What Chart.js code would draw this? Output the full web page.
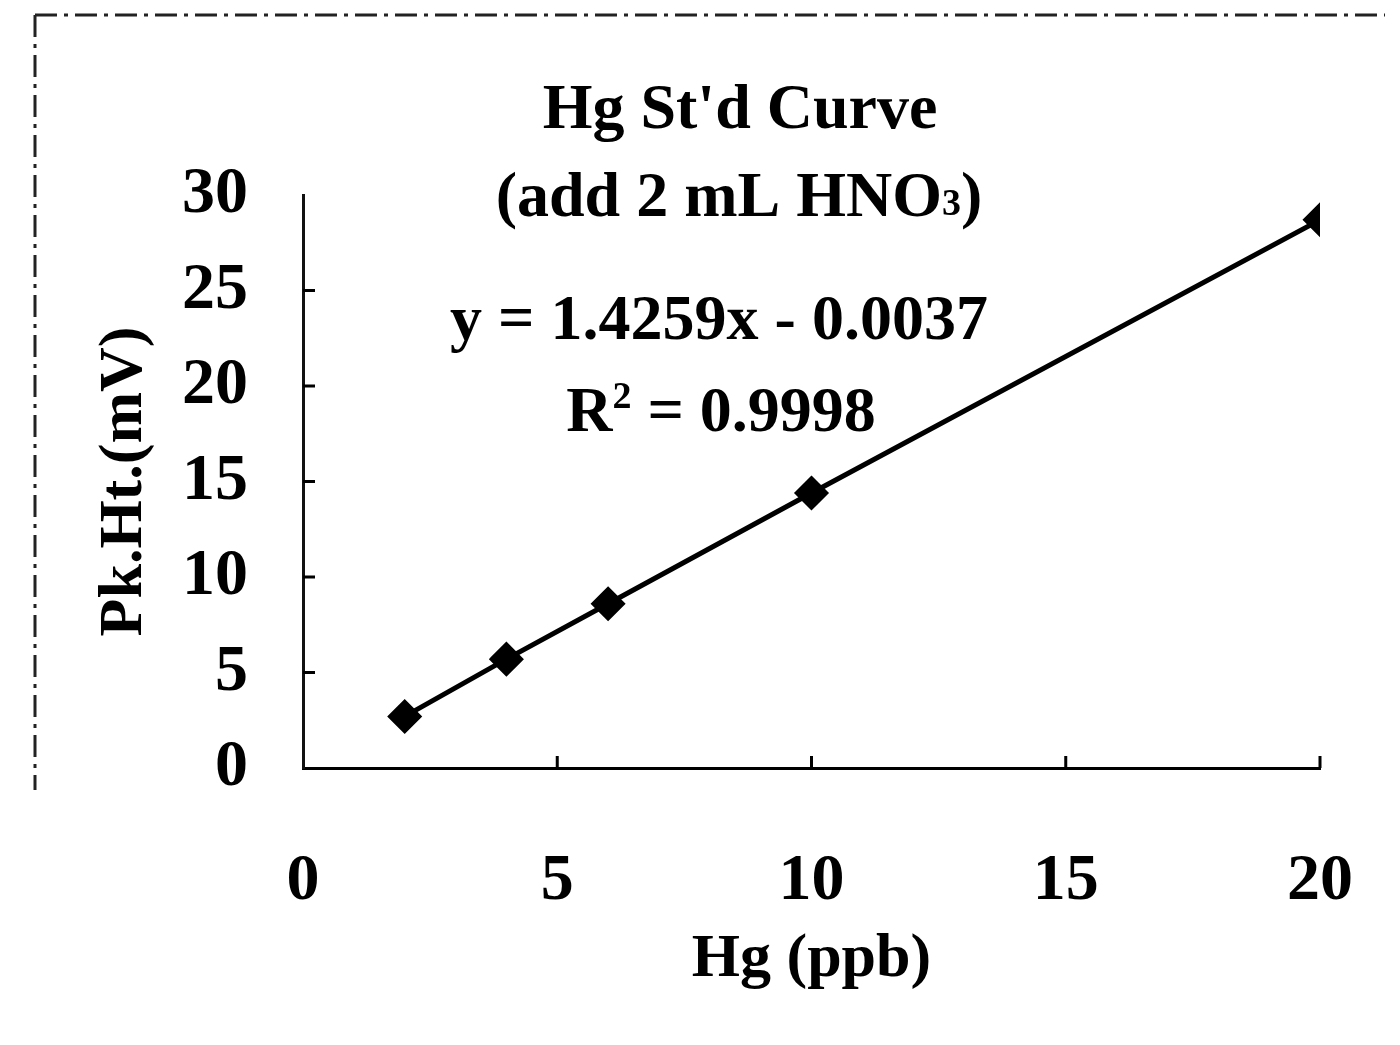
<!DOCTYPE html>
<html><head><meta charset="utf-8">
<script src="https://cdn.jsdelivr.net/npm/chart.js@4/dist/chart.umd.min.js"></script>
<style>html,body{margin:0;padding:0;background:#fff;} #wrap{width:1400px;height:1045px;}</style>
</head><body><div id="wrap"><canvas id="c" width="1400" height="1045"></canvas></div>
<script>
const hgPpb = [2, 4, 6, 10, 20];
const pkHtMv = [2.7, 5.7, 8.6, 14.4, 28.7];
const xTicks = [0, 5, 10, 15, 20];
const yTicks = [0, 5, 10, 15, 20, 25, 30];
const titleLine1 = "Hg St'd Curve";
const titleLine2 = ["(add 2 mL HNO", "3", ")"];
const equationText = "y = 1.4259x - 0.0037";
const r2Text = ["R", "2", " = 0.9998"];
const xTitle = "Hg (ppb)";
const yTitle = "Pk.Ht.(mV)";

const FONT = "'Liberation Serif', 'Times New Roman', serif";

function drawParts(ctx, parts, cx, cy, size) {
  let total = 0;
  const fonts = parts.map(p => p[1] === 'n' ? `bold ${size}px ${FONT}` : `bold ${Math.round(size*0.6)}px ${FONT}`);
  parts.forEach((p, i) => { ctx.font = fonts[i]; total += ctx.measureText(p[0]).width; });
  let x = cx - total / 2;
  ctx.textAlign = 'left';
  ctx.textBaseline = 'alphabetic';
  const base = cy + size * 0.33;
  parts.forEach((p, i) => {
    ctx.font = fonts[i];
    let y = base;
    if (p[1] === 'sub') y = base - size * 0.02;
    if (p[1] === 'sup') y = base - size * 0.36;
    ctx.fillText(p[0], x, y);
    x += ctx.measureText(p[0]).width;
  });
}

const decor = {
  id: 'decor',
  beforeDraw(chart) {
    const ctx = chart.ctx;
    ctx.save();
    ctx.fillStyle = '#fff';
    ctx.fillRect(0, 0, chart.width, chart.height);
    ctx.strokeStyle = '#222';
    ctx.lineWidth = 3;
    ctx.setLineDash([22, 7, 4, 7]);
    ctx.beginPath();
    ctx.moveTo(35, 15); ctx.lineTo(1385, 15);
    ctx.moveTo(35, 15); ctx.lineTo(35, 790);
    ctx.stroke();
    ctx.restore();
  },
  afterDraw(chart) {
    const ctx = chart.ctx;
    const xs = chart.scales.x, ys = chart.scales.y;
    const a = chart.chartArea;
    ctx.save();
    ctx.strokeStyle = '#000';
    ctx.lineWidth = 3;
    ctx.beginPath();
    yTicks.forEach(v => {
      if (v === 0 || v === 30) return;
      const py = ys.getPixelForValue(v);
      ctx.moveTo(a.left, py); ctx.lineTo(a.left + 12, py);
    });
    xTicks.forEach(v => {
      if (v === 0) return;
      const px = xs.getPixelForValue(v);
      ctx.moveTo(px, a.bottom); ctx.lineTo(px, a.bottom - 12);
    });
    ctx.stroke();
    ctx.fillStyle = '#000';
    drawParts(ctx, [[titleLine1, 'n']], 740, 107, 64);
    drawParts(ctx, [[titleLine2[0], 'n'], [titleLine2[1], 'sub'], [titleLine2[2], 'n']], 739, 195, 64);
    drawParts(ctx, [[equationText, 'n']], 719, 318, 64);
    drawParts(ctx, [[r2Text[0], 'n'], [r2Text[1], 'sup'], [r2Text[2], 'n']], 721, 410, 64);
    ctx.restore();
  }
};

new Chart(document.getElementById('c'), {
  type: 'scatter',
  data: {
    datasets: [{
      data: hgPpb.map((x, i) => ({x: x, y: pkHtMv[i]})),
      showLine: true,
      borderColor: '#000',
      backgroundColor: '#000',
      borderWidth: 5,
      pointStyle: 'rectRot',
      pointRadius: 14,
      pointHoverRadius: 14,
      pointBackgroundColor: '#000',
      pointBorderColor: '#000',
      tension: 0
    }]
  },
  options: {
    responsive: false,
    animation: false,
    layout: { padding: { top: 195, right: 80, left: 0, bottom: 0 } },
    plugins: { legend: { display: false }, tooltip: { enabled: false }, title: { display: false } },
    scales: {
      x: {
        type: 'linear', min: 0, max: 20,
        afterBuildTicks: s => { s.ticks = xTicks.map(v => ({value: v})); },
        afterFit: s => { s.height = 277; s.paddingLeft = 0; s.paddingRight = 0; },
        grid: { display: false, drawTicks: false },
        border: { display: true, color: '#000', width: 3 },
        ticks: { color: '#000', padding: 74, font: { family: FONT, size: 66, weight: 'bold' } },
        title: { display: true, text: xTitle, color: '#000', padding: { top: 0, bottom: 48 }, font: { family: FONT, size: 62, weight: 'bold' } }
      },
      y: {
        type: 'linear', min: 0, max: 30,
        afterBuildTicks: s => { s.ticks = yTicks.map(v => ({value: v})); },
        afterFit: s => { s.width = 303; s.paddingTop = 0; s.paddingBottom = 0; },
        grid: { display: false, drawTicks: false },
        border: { display: true, color: '#111', width: 3, dash: [16, 6] },
        ticks: { color: '#000', padding: 55, font: { family: FONT, size: 66, weight: 'bold' } },
        title: { display: true, text: yTitle, color: '#000', padding: { top: 88, bottom: 0 }, font: { family: FONT, size: 62, weight: 'bold' } }
      }
    }
  },
  plugins: [decor]
});
</script>
</body></html>
